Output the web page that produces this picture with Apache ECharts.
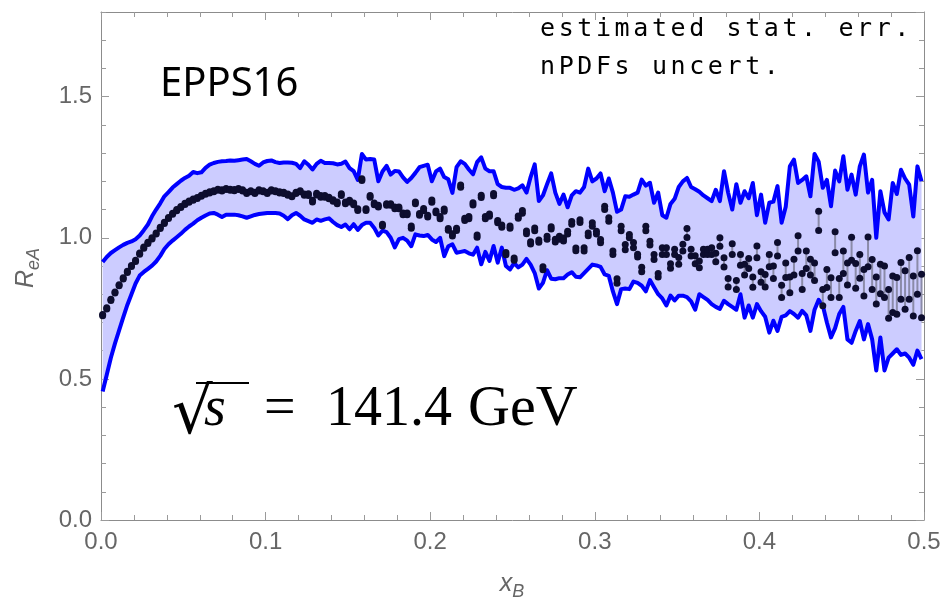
<!DOCTYPE html>
<html>
<head>
<meta charset="utf-8">
<script src="https://cdn.jsdelivr.net/npm/echarts@6/dist/echarts.min.js"></script>
<style>
  html, body { margin: 0; padding: 0; background: #fff; }
  #chart { width: 944px; height: 602px; }
</style>
</head>
<body>
<div id="chart"></div>
<script>
// x_B grid of the pseudo-data
var xB = [
  0.001,0.0035,0.006,0.0085,0.011,0.0135,0.016,0.0185,0.021,0.0235,
  0.026,0.0285,0.031,0.0335,0.036,0.0385,0.041,0.0435,0.046,0.0485,
  0.051,0.0535,0.056,0.0585,0.061,0.0635,0.066,0.0685,0.071,0.0735,
  0.076,0.0785,0.081,0.0835,0.086,0.0885,0.091,0.0935,0.096,0.0985,
  0.101,0.1035,0.106,0.1085,0.111,0.1135,0.116,0.1185,0.121,0.1235,
  0.126,0.1285,0.131,0.1335,0.136,0.1385,0.141,0.1435,0.146,0.1485,
  0.151,0.1535,0.156,0.1585,0.161,0.1635,0.166,0.1685,0.171,0.1735,
  0.176,0.1785,0.181,0.1835,0.186,0.1885,0.191,0.1935,0.196,0.1985,
  0.201,0.2035,0.206,0.2085,0.211,0.2135,0.216,0.2185,0.221,0.2235,
  0.226,0.2285,0.231,0.2335,0.236,0.2385,0.241,0.2435,0.246,0.2485,
  0.251,0.2535,0.256,0.2585,0.261,0.2635,0.266,0.2685,0.271,0.2735,
  0.276,0.2785,0.281,0.2835,0.286,0.2885,0.291,0.2935,0.296,0.2985,
  0.301,0.3035,0.306,0.3085,0.311,0.3135,0.316,0.3185,0.321,0.3235,
  0.326,0.3285,0.331,0.3335,0.336,0.3385,0.341,0.3435,0.346,0.3485,
  0.351,0.3535,0.356,0.3585,0.361,0.3635,0.366,0.3685,0.371,0.3735,
  0.376,0.3785,0.381,0.3835,0.386,0.3885,0.391,0.3935,0.396,0.3985,
  0.401,0.4035,0.406,0.4085,0.411,0.4135,0.416,0.4185,0.421,0.4235,
  0.426,0.4285,0.431,0.4335,0.436,0.4385,0.441,0.4435,0.446,0.4485,
  0.451,0.4535,0.456,0.4585,0.461,0.4635,0.466,0.4685,0.471,0.4735,
  0.476,0.4785,0.481,0.4835,0.486,0.4885,0.491,0.4935,0.496,0.4985
];

// nPDF uncertainty band, upper edge
var bandUpper = [
  0.914,0.932,0.946,0.956,0.966,0.975,0.982,0.987,0.995,1.008,
  1.027,1.047,1.076,1.100,1.122,1.147,1.162,1.178,1.190,1.202,
  1.212,1.220,1.233,1.229,1.232,1.248,1.259,1.265,1.269,1.271,
  1.272,1.274,1.273,1.275,1.277,1.279,1.271,1.262,1.255,1.267,
  1.272,1.274,1.268,1.265,1.267,1.267,1.266,1.262,1.247,1.271,
  1.259,1.242,1.262,1.273,1.265,1.265,1.264,1.260,1.262,1.270,
  1.247,1.236,1.205,1.297,1.277,1.279,1.277,1.200,1.235,1.255,
  1.224,1.237,1.235,1.214,1.198,1.212,1.230,1.250,1.255,1.259,
  1.200,1.235,1.245,1.215,1.207,1.159,1.250,1.271,1.262,1.242,
  1.225,1.268,1.285,1.245,1.236,1.236,1.190,1.180,1.177,1.177,
  1.170,1.175,1.186,1.160,1.215,1.260,1.130,1.150,1.190,1.228,
  1.160,1.120,1.153,1.108,1.150,1.165,1.160,1.180,1.245,1.200,
  1.210,1.228,1.165,1.210,1.160,1.092,1.100,1.147,1.145,1.153,
  1.160,1.206,1.185,1.195,1.124,1.160,1.080,1.071,1.120,1.138,
  1.180,1.200,1.212,1.180,1.172,1.163,1.150,1.140,1.130,1.170,
  1.130,1.236,1.160,1.100,1.190,1.124,1.165,1.140,1.194,1.080,
  1.153,1.053,1.124,1.128,1.183,1.053,1.110,1.253,1.277,1.194,
  1.205,1.218,1.147,1.297,1.270,1.177,1.205,1.112,1.238,1.200,
  1.289,1.170,1.224,1.153,1.253,1.295,1.160,1.205,1.000,1.165,
  1.090,1.065,1.194,1.155,1.241,1.210,1.188,1.075,1.253,1.200
];

// nPDF uncertainty band, lower edge
var bandLower = [
  0.455,0.515,0.575,0.626,0.672,0.718,0.762,0.800,0.838,0.866,
  0.879,0.890,0.901,0.916,0.936,0.960,0.977,0.990,1.002,1.014,
  1.028,1.040,1.050,1.062,1.071,1.079,1.086,1.088,1.082,1.074,
  1.082,1.082,1.082,1.080,1.076,1.071,1.076,1.081,1.084,1.086,
  1.088,1.088,1.088,1.086,1.078,1.066,1.080,1.088,1.078,1.065,
  1.059,1.053,1.065,1.060,1.065,1.069,1.056,1.045,1.038,1.047,
  1.030,1.048,1.028,1.045,1.053,1.053,1.035,1.008,1.025,1.020,
  1.000,0.966,0.995,1.000,0.990,0.970,1.012,1.008,1.006,1.010,
  0.994,0.985,1.000,0.935,0.970,0.977,0.947,0.950,0.953,0.945,
  0.940,0.965,0.906,0.950,0.918,0.971,0.912,0.965,0.900,0.888,
  0.910,0.895,0.905,0.925,0.905,0.875,0.820,0.840,0.885,0.855,
  0.853,0.857,0.857,0.870,0.878,0.862,0.860,0.875,0.890,0.905,
  0.902,0.897,0.870,0.865,0.810,0.765,0.818,0.820,0.818,0.845,
  0.840,0.830,0.810,0.850,0.825,0.800,0.785,0.760,0.795,0.778,
  0.795,0.795,0.790,0.775,0.745,0.800,0.790,0.780,0.765,0.755,
  0.748,0.777,0.765,0.755,0.745,0.800,0.717,0.760,0.717,0.765,
  0.740,0.720,0.664,0.706,0.670,0.720,0.725,0.740,0.730,0.717,
  0.741,0.725,0.670,0.745,0.780,0.760,0.700,0.647,0.680,0.730,
  0.755,0.640,0.628,0.670,0.705,0.640,0.694,0.640,0.530,0.647,
  0.530,0.575,0.590,0.605,0.585,0.590,0.575,0.550,0.600,0.570
];

// pseudo-data central values
var rMid = [
  0.726,0.750,0.780,0.806,0.832,0.856,0.879,0.900,0.918,0.944,
  0.965,0.982,0.998,1.015,1.035,1.053,1.070,1.085,1.098,1.109,
  1.120,1.128,1.135,1.141,1.149,1.156,1.161,1.165,1.170,1.168,
  1.173,1.170,1.169,1.173,1.168,1.159,1.165,1.159,1.168,1.165,
  1.159,1.168,1.165,1.161,1.159,1.153,1.147,1.159,1.165,1.153,
  1.153,1.130,1.155,1.147,1.147,1.141,1.132,1.124,1.153,1.124,
  1.130,1.120,1.100,1.206,1.100,1.147,1.120,1.112,1.045,1.118,
  1.118,1.106,1.106,1.085,1.085,1.038,1.124,1.083,1.100,1.077,
  1.130,1.092,1.071,1.098,1.030,1.010,1.030,1.183,1.065,1.071,
  1.120,1.006,1.147,1.071,1.080,1.153,1.057,1.041,0.944,1.038,
  0.924,1.073,1.092,1.019,0.982,1.030,0.988,0.892,1.000,1.035,
  0.990,1.000,0.994,1.018,1.053,0.959,1.059,0.959,1.012,1.047,
  1.018,0.988,1.106,1.065,0.947,0.847,1.033,0.967,1.006,0.974,
  0.937,0.888,1.033,0.981,0.932,0.867,0.953,0.953,0.900,0.950,
  0.918,0.965,1.017,0.947,0.922,0.906,0.950,0.950,0.953,0.930,
  0.985,0.913,0.841,0.960,0.833,0.922,0.887,0.909,0.843,0.950,
  0.861,0.848,0.919,0.878,0.959,0.810,0.885,0.833,0.896,0.980,
  0.845,0.922,0.896,0.880,1.060,0.788,0.856,0.823,0.984,0.822,
  0.913,0.872,0.961,0.865,0.899,0.841,0.950,0.870,0.813,0.854,
  0.844,0.766,0.800,0.794,0.847,0.815,0.856,0.794,0.877,0.794
];

// estimated stat. err. (half width)
var rErr = [
  0.002,0.002,0.002,0.002,0.002,0.002,0.002,0.002,0.002,0.002,
  0.002,0.002,0.002,0.002,0.002,0.002,0.002,0.002,0.002,0.002,
  0.002,0.002,0.002,0.002,0.002,0.002,0.002,0.002,0.002,0.002,
  0.002,0.002,0.002,0.002,0.002,0.002,0.002,0.002,0.002,0.002,
  0.002,0.002,0.002,0.002,0.002,0.002,0.002,0.002,0.002,0.002,
  0.003,0.003,0.003,0.003,0.003,0.003,0.003,0.003,0.003,0.003,
  0.003,0.003,0.003,0.003,0.003,0.003,0.003,0.003,0.003,0.003,
  0.003,0.003,0.003,0.003,0.003,0.004,0.003,0.003,0.004,0.003,
  0.004,0.003,0.004,0.004,0.003,0.004,0.004,0.004,0.004,0.004,
  0.004,0.004,0.004,0.004,0.004,0.004,0.004,0.004,0.004,0.004,
  0.004,0.004,0.005,0.005,0.004,0.005,0.004,0.005,0.005,0.004,
  0.005,0.005,0.005,0.005,0.005,0.005,0.005,0.006,0.005,0.006,
  0.005,0.006,0.006,0.006,0.006,0.008,0.008,0.009,0.006,0.009,
  0.005,0.008,0.008,0.007,0.009,0.006,0.012,0.012,0.008,0.009,
  0.012,0.012,0.016,0.012,0.014,0.012,0.009,0.009,0.012,0.015,
  0.015,0.0165,0.015,0.019,0.016,0.019,0.019,0.018,0.018,0.021,
  0.019,0.022,0.022,0.022,0.024,0.022,0.026,0.028,0.028,0.027,
  0.028,0.031,0.028,0.031,0.034,0.029,0.032,0.035,0.037,0.034,
  0.040,0.039,0.041,0.044,0.042,0.047,0.053,0.053,0.048,0.052,
  0.056,0.051,0.065,0.065,0.065,0.068,0.074,0.071,0.077,0.077
];

var yTickLabels = ['0.0', '0.5', '1.0', '1.5'];
var xTickLabels = ['0.0', '0.1', '0.2', '0.3', '0.4', '0.5'];

var upperPts = [], lowerPts = [], dots = [], bars = [];
for (var i = 0; i < xB.length; i++) {
    upperPts.push([xB[i], bandUpper[i]]);
    lowerPts.push([xB[i], bandLower[i]]);
    dots.push([xB[i], rMid[i] - rErr[i]]);
    dots.push([xB[i], rMid[i] + rErr[i]]);
    bars.push([xB[i], rMid[i] - rErr[i], rMid[i] + rErr[i]]);
}

var frameColor = '#8c8c8c';
var tickColor = '#9a9a9a';
var labelFont = {color: '#666', fontSize: 24, fontFamily: 'Liberation Sans'};

function xAxisCfg(pos, labels) {
    return {
        type: 'value', position: pos, min: 0, max: 0.5, interval: 0.1,
        axisLine: {show: true, onZero: false, lineStyle: {color: frameColor, width: 1}},
        axisTick: {show: true, inside: true, length: 8, lineStyle: {color: tickColor}},
        minorTick: {show: true, splitNumber: 5, length: 5, lineStyle: {color: tickColor}},
        splitLine: {show: false},
        axisLabel: {
            show: labels, margin: 10, color: labelFont.color, fontSize: labelFont.fontSize,
            fontFamily: labelFont.fontFamily,
            formatter: function (v) { return xTickLabels[Math.round(v * 10)]; }
        }
    };
}

function yAxisCfg(pos, step, len, labels, line) {
    return {
        type: 'value', position: pos, min: 0, max: 1.8, interval: step,
        axisLine: {show: line, onZero: false, lineStyle: {color: frameColor, width: 1}},
        axisTick: {show: true, inside: true, length: len, lineStyle: {color: tickColor}},
        splitLine: {show: false},
        axisLabel: {
            show: labels, margin: 9, showMaxLabel: false, color: labelFont.color,
            fontSize: labelFont.fontSize, fontFamily: labelFont.fontFamily,
            formatter: function (v) {
                var k = Math.round(v * 2);
                return Math.abs(v * 2 - k) < 1e-6 && yTickLabels[k] ? yTickLabels[k] : '';
            }
        }
    };
}

// legend text drawn with a fixed character pitch
function monoText(s) {
    return s.split('').map(function (c) { return '{c|' + c + '}'; }).join('');
}
var monoRich = {c: {fontFamily: 'DejaVu Sans Mono', fontSize: 25, color: '#000', width: 18.65}};

var chart = echarts.init(document.getElementById('chart'), null, {renderer: 'canvas'});

chart.setOption({
    animation: false,
    backgroundColor: '#fff',
    grid: {left: 101, right: 20, top: 12, bottom: 82, containLabel: false},
    xAxis: [xAxisCfg('bottom', true), xAxisCfg('top', false)],
    yAxis: [
        yAxisCfg('left', 0.5, 8, true, true),
        yAxisCfg('left', 0.1, 5, false, false),
        yAxisCfg('right', 0.5, 8, false, true),
        yAxisCfg('right', 0.1, 5, false, false)
    ],
    series: [
        {
            // filled nPDF band
            type: 'custom',
            silent: true,
            z: 1,
            data: [[xB[0], bandUpper[0]]],
            renderItem: function (params, api) {
                var pts = [];
                for (var k = 0; k < xB.length; k++) pts.push(api.coord([xB[k], bandUpper[k]]));
                for (var k2 = xB.length - 1; k2 >= 0; k2--) pts.push(api.coord([xB[k2], bandLower[k2]]));
                return {type: 'polygon', shape: {points: pts}, style: {fill: '#ccccff', stroke: null}};
            }
        },
        {
            type: 'line', data: upperPts, showSymbol: false, silent: true, z: 3,
            lineStyle: {color: '#0000ff', width: 4, join: 'round'}
        },
        {
            type: 'line', data: lowerPts, showSymbol: false, silent: true, z: 3,
            lineStyle: {color: '#0000ff', width: 4, join: 'round'}
        },
        {
            // stat. error bars
            type: 'custom', silent: true, z: 4,
            encode: {x: 0, y: [1, 2]},
            data: bars,
            renderItem: function (params, api) {
                var a = api.coord([api.value(0), api.value(1)]);
                var b = api.coord([api.value(0), api.value(2)]);
                return {
                    type: 'line',
                    shape: {x1: a[0], y1: a[1], x2: b[0], y2: b[1]},
                    style: {stroke: '#8b8ba8', lineWidth: 2}
                };
            }
        },
        {
            type: 'scatter', data: dots, symbol: 'circle', symbolSize: 7, silent: true, z: 5,
            itemStyle: {color: '#0d0d2e', opacity: 1}
        }
    ],
    graphic: [
        {
            type: 'text', left: 160, top: 65, z: 10,
            style: {text: 'EPPS16', fontFamily: 'Noto Sans', fontSize: 40, fill: '#000'}
        },
        {
            type: 'text', x: 540, y: 29, z: 10,
            style: {text: monoText('estimated stat. err.'), rich: monoRich, verticalAlign: 'middle'}
        },
        {
            type: 'text', x: 540, y: 67, z: 10,
            style: {text: monoText('nPDFs uncert.'), rich: monoRich, verticalAlign: 'middle'}
        },
        {
            type: 'text', x: 172, y: 416, z: 10,
            style: {text: '√', fontFamily: 'DejaVu Serif', fontSize: 64, fill: '#000', verticalAlign: 'middle'}
        },
        {
            type: 'line', z: 10,
            shape: {x1: 196, y1: 383, x2: 249, y2: 383},
            style: {stroke: '#000', lineWidth: 2}
        },
        {
            type: 'text', x: 204, y: 410, z: 10,
            style: {text: 's', fontFamily: 'Liberation Serif', fontStyle: 'italic', fontSize: 56, fill: '#000', verticalAlign: 'middle'}
        },
        {
            type: 'text', x: 264, y: 410, z: 10,
            style: {text: '=', fontFamily: 'Liberation Serif', fontSize: 56, fill: '#000', verticalAlign: 'middle'}
        },
        {
            type: 'text', x: 326, y: 410, z: 10,
            style: {text: '141.4', fontFamily: 'Liberation Serif', fontSize: 56, fill: '#000', verticalAlign: 'middle'}
        },
        {
            type: 'text', x: 468, y: 410, z: 10,
            style: {text: 'GeV', fontFamily: 'Liberation Serif', fontSize: 58, fill: '#000', verticalAlign: 'middle'}
        },
        {
            type: 'text', x: 26, y: 268, rotation: Math.PI / 2, z: 10,
            style: {
                text: '{r|R}{s|eA}', align: 'center', verticalAlign: 'middle',
                rich: {
                    r: {fontFamily: 'Liberation Sans', fontStyle: 'italic', fontSize: 25, fill: '#666', color: '#666', lineHeight: 34},
                    s: {fontFamily: 'Liberation Sans', fontStyle: 'italic', fontSize: 18, fill: '#666', color: '#666', lineHeight: 17, verticalAlign: 'bottom'}
                }
            }
        },
        {
            type: 'text', x: 512, y: 584, z: 10,
            style: {
                text: '{r|x}{s|B}', align: 'center', verticalAlign: 'middle',
                rich: {
                    r: {fontFamily: 'Liberation Sans', fontStyle: 'italic', fontSize: 25, fill: '#666', color: '#666', lineHeight: 34},
                    s: {fontFamily: 'Liberation Sans', fontStyle: 'italic', fontSize: 18, fill: '#666', color: '#666', lineHeight: 17, verticalAlign: 'bottom'}
                }
            }
        }
    ]
});
</script>
</body>
</html>
